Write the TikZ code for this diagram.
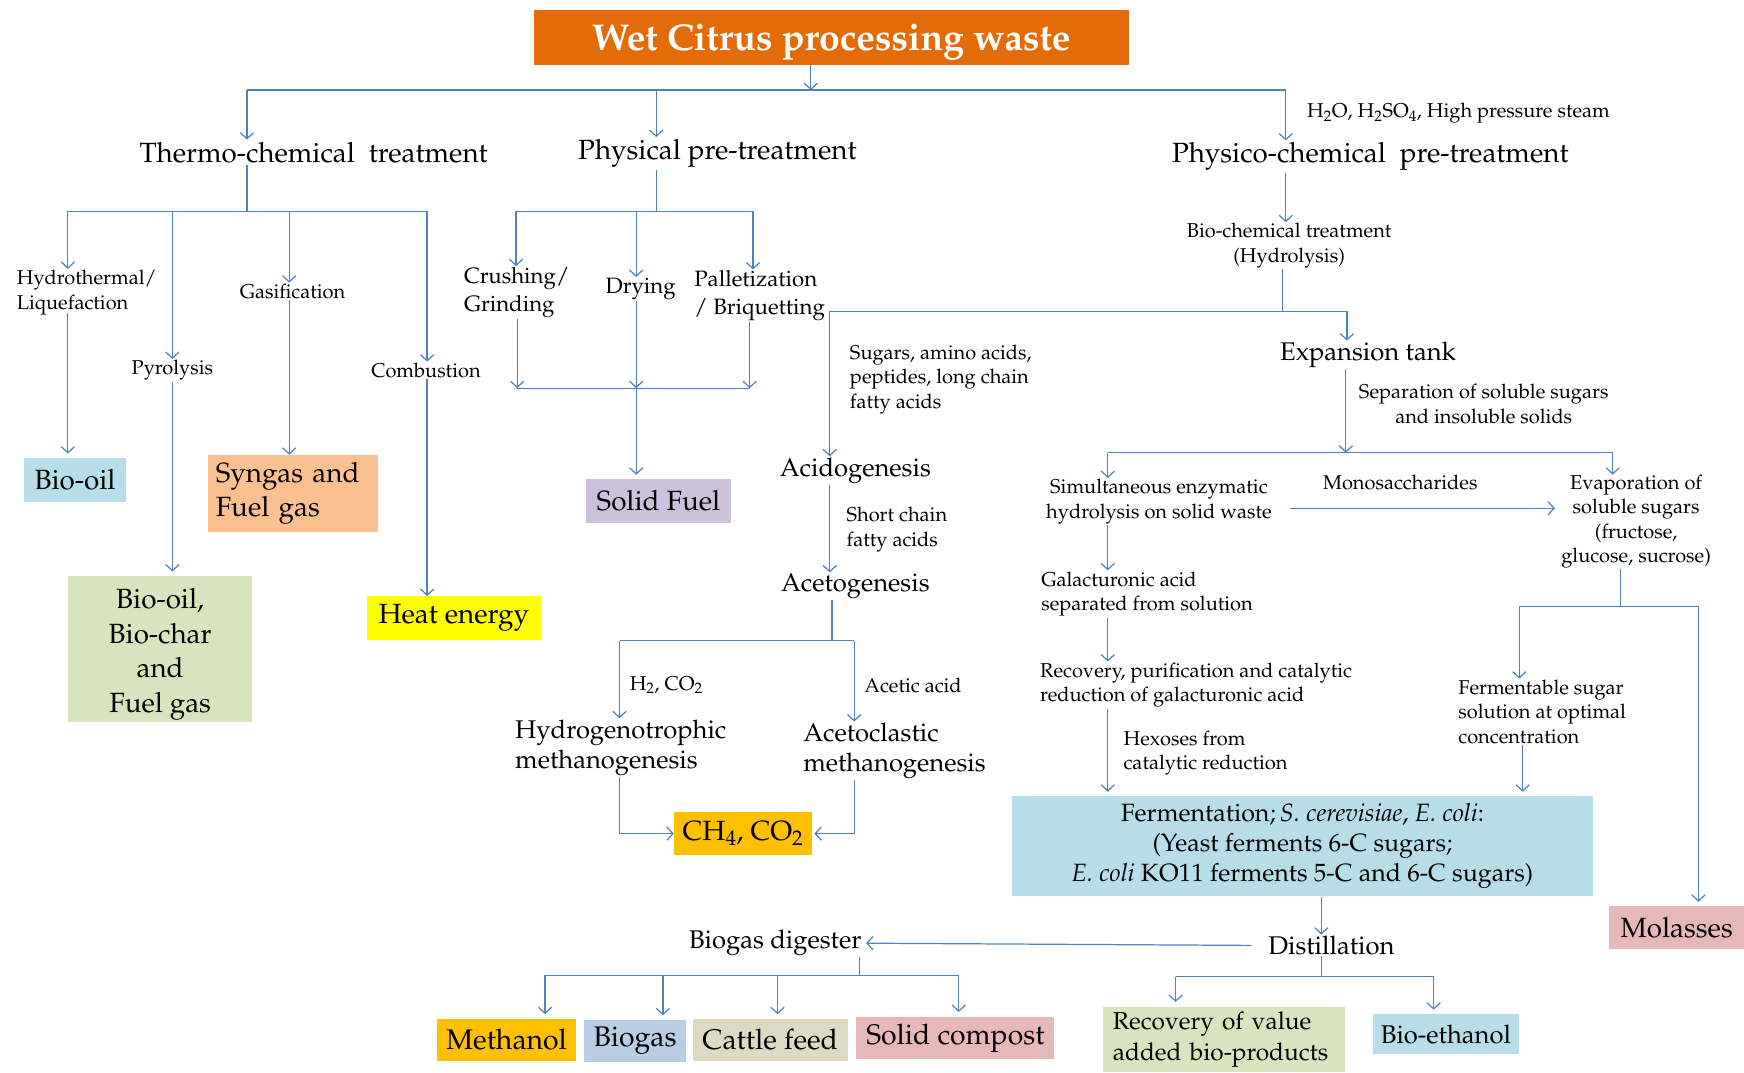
\documentclass[tikz,border=0pt]{standalone}
\usepackage[T1]{fontenc}
\usepackage{mathpazo}
\usetikzlibrary{arrows.meta}
\definecolor{lnc}{RGB}{79,129,189}
\definecolor{cOrange}{RGB}{227,108,9}
\definecolor{cLBlue}{RGB}{183,222,232}
\definecolor{cGreen}{RGB}{215,228,189}
\definecolor{cPeach}{RGB}{250,192,144}
\definecolor{cYellow}{RGB}{255,255,0}
\definecolor{cLav}{RGB}{204,193,218}
\definecolor{cGold}{RGB}{255,192,0}
\definecolor{cBGray}{RGB}{185,205,229}
\definecolor{cTan}{RGB}{221,217,195}
\definecolor{cPink}{RGB}{230,185,184}
\tikzset{
  ln/.style={draw=lnc, line width=1.1pt},
  arr/.style={ln, -{Straight Barb[length=5.5pt,width=12pt,line width=1.1pt]}},
  arrg/.style={arr, shorten >=4pt},
  sm/.style={inner sep=1pt, font=\fontsize{18}{22}\selectfont},
  md/.style={inner sep=1pt, font=\fontsize{20}{25}\selectfont},
  mid/.style={inner sep=1pt, font=\fontsize{23}{27}\selectfont},
  hd/.style={inner sep=2pt, font=\fontsize{25}{28}\selectfont},
  box/.style={fill=#1, inner sep=0pt, font=\fontsize{25}{31}\selectfont},
  bbox/.style={fill=#1, inner sep=0pt, font=\fontsize{25.5}{31}\selectfont},
}
\begin{document}
\begin{tikzpicture}[x=1pt,y=-1pt]
\useasboundingbox (0,0) rectangle (1568,964);

% ---------- title and top level ----------
\node[fill=cOrange, minimum width=535pt, minimum height=49pt, inner sep=0pt, text depth=0pt,
      text=white, font=\bfseries\fontsize{33.5}{36}\selectfont] (title) at (747.5,33.5) {Wet Citrus processing waste};
\node[hd] (tc) at (282,137) {Thermo-chemical\ \ treatment};
\node[hd] (pp) at (645,138) {Physical pre-treatment};
\node[hd] (pc) at (1232,141) {Physico-chemical\ \ pre-treatment};
\node[sm, anchor=west] (steam) at (1174,102) {H\textsubscript{2}O, H\textsubscript{2}SO\textsubscript{4}, High pressure steam};

\coordinate (j0) at (729,81);
\coordinate (jL) at (222,81);
\coordinate (jM) at (590,81);
\coordinate (jR) at (1156,81);
\draw[arr] (title.south -| j0) -- (j0);
\draw[ln] (jL) -- (jR);
\draw[arr] (jL) -- (jL |- tc.north);
\draw[arr] (jM) -- (jM |- pp.north);
\draw[arr] (jR) -- (jR |- pc.north);

% ---------- thermo-chemical ----------
\node[sm, anchor=west, align=left] (hyd) at (14,263) {Hydrothermal/\\Liquefaction};
\node[sm] (pyr) at (155,333) {Pyrolysis};
\node[sm] (gas) at (263,262) {Gasification};
\node[sm] (comb) at (383,333) {Combustion};

\node[box=cLBlue, minimum width=91pt, minimum height=39pt] (biooil) at (67.5,431.5) {Bio-oil};
\node[box=cGreen, minimum width=166pt, minimum height=131pt, align=center] (bbf) at (144,583.5) {\rule{0pt}{28pt}Bio-oil,\\Bio-char\\and\\Fuel gas};
\node[box=cPeach, minimum width=153pt, minimum height=69pt, align=left, text width=139pt] (syn) at (263.5,443.5) {Syngas and\\Fuel gas};
\node[box=cYellow, minimum width=156pt, minimum height=39pt] (heat) at (408,555.5) {Heat energy};

\coordinate (t0) at (222,190);
\coordinate (t1) at (61,190);
\coordinate (t2) at (155,190);
\coordinate (t3) at (260,190);
\coordinate (t4) at (384,190);
\draw[ln] (tc.south -| t0) -- (t0);
\draw[ln] (t1) -- (t4);
\draw[arr] (t1) -- (t1 |- hyd.north);
\draw[arr] (t2) -- (t2 |- pyr.north);
\draw[arr] (t3) -- (t3 |- gas.north);
\draw[arr] (t4) -- (t4 |- comb.north);
\draw[arrg] ([yshift=3pt]hyd.south -| t1) -- (t1 |- biooil.north);
\draw[arrg] (pyr.south -| t2) -- (t2 |- bbf.north);
\draw[arr] (gas.south -| t3) -- (t3 |- syn.north);
\draw[arr] (comb.south -| t4) -- (t4 |- heat.north);

% ---------- physical ----------
\node[md, anchor=west, align=left] (crush) at (416,263) {Crushing/\\Grinding};
\node[md] (dry) at (576,260) {Drying};
\node[md, anchor=west, align=left] (pal) at (623,266) {Palletization\\/ Briquetting};
\node[box=cLav, minimum width=130pt, minimum height=39pt] (solid) at (592,450.5) {Solid Fuel};

\coordinate (p0) at (590,190);
\coordinate (p1) at (464,190);
\coordinate (p2) at (572,190);
\coordinate (p3) at (677,190);
\draw[ln] (pp.south -| p0) -- (p0);
\draw[ln] (p1) -- (p3);
\draw[arr] (p1) -- (p1 |- crush.north);
\draw[arr] (p2) -- (p2 |- dry.north);
\draw[arr] (p3) -- (p3 |- pal.north);
\coordinate (q1) at (465,349);
\coordinate (q2) at (572,349);
\coordinate (q3) at (674,349);
\draw[arr] (crush.south -| q1) -- (q1);
\draw[arr] (dry.south -| q2) -- (q2);
\draw[arr] (pal.south -| q3) -- (q3);
\draw[ln] (q1) -- (q3);
\draw[arrg] (q2) -- (q2 |- solid.north);

% ---------- physico-chemical ----------
\node[sm, align=center] (bio) at (1159,221) {Bio-chemical treatment\\(Hydrolysis)};
\node[mid] (exp) at (1230,319) {Expansion tank};
\node[mid] (acid) at (769,423) {Acidogenesis};
\node[sm, anchor=west, align=left] (sug) at (763,341) {Sugars, amino acids,\\peptides, long chain\\fatty acids};
\node[sm, align=center] (sep) at (1334,363) {Separation of soluble sugars\\and insoluble solids};

\draw[arr] (pc.south -| jR) -- (jR |- bio.north);
\coordinate (b0) at (1153,280);
\coordinate (bL) at (746,280);
\coordinate (bR) at (1211,280);
\draw[ln] (bio.south -| b0) -- (b0);
\draw[ln] (bL) -- (bR);
\draw[arr] (bR) -- (bR |- exp.north);
\draw[arr] (bL) -- (bL |- acid.north);

\node[sm, align=center] (sim) at (1042,451) {Simultaneous enzymatic\\hydrolysis on solid waste};
\node[sm] (mono) at (1259,434) {Monosaccharides};
\node[sm, align=center, inner sep=0pt] (evap) at (1471,469) {Evaporation of\\soluble sugars\\(fructose,\\glucose, sucrose)};
\node[sm, anchor=west, align=left] (gal) at (935,534) {Galacturonic acid\\separated from solution};
\node[sm, anchor=west, align=left] (rec) at (934,616) {Recovery, purification and catalytic\\reduction of galacturonic acid};
\node[sm, anchor=west, align=left] (hex) at (1009,677) {Hexoses from\\catalytic reduction};
\node[sm, anchor=west, align=left] (fsug) at (1310,640) {Fermentable sugar\\solution at optimal\\concentration};

\coordinate (e0) at (1210,407);
\coordinate (eL) at (996,407);
\coordinate (eR) at (1450,407);
\draw[arr] (exp.south -| e0) -- (e0);
\draw[ln] (eL) -- (eR);
\draw[arr] (eL) -- (eL |- sim.north);
\draw[arr] (eR) -- (eR |- evap.north);
\coordinate (m1) at (1160,457);
\coordinate (m2) at (1398,457);
\draw[arr] (m1) -- (m2);
\draw[arr] (sim.south -| eL) -- (eL |- gal.north);
\draw[arr] (gal.south -| eL) -- (eL |- rec.north);

\node[fill=cLBlue, minimum width=522pt, minimum height=90pt, inner sep=0pt, align=center,
      font=\fontsize{22.5}{27}\selectfont] (ferm) at (1171,761)
  {Fermentation;\,\textit{S.\ cerevisiae}, \textit{E.\ coli}:\\(Yeast ferments 6-C sugars;\\\textit{E.\ coli} KO11 ferments 5-C and 6-C sugars)};
\node[box=cPink, minimum width=121pt, minimum height=38pt] (mol) at (1507.5,834) {Molasses};

\draw[arrg] (rec.south -| eL) -- (eL |- ferm.north);
\coordinate (v0) at (1457,545);
\coordinate (v1) at (1366,545);
\coordinate (v2) at (1527,545);
\draw[ln] (evap.south -| v0) -- (v0);
\draw[ln] (v1) -- (v2);
\draw[arr] (v1) -- (v1 |- fsug.north);
\draw[arrg] (v2) -- (v2 |- mol.north);
\coordinate (f0) at (1369,700);
\draw[arrg] (fsug.south -| f0) -- (f0 |- ferm.north);

% ---------- distillation ----------
\node[mid] (dist) at (1197,850) {Distillation};
\node[mid] (bdig) at (697,848) {Biogas digester};
\coordinate (k0) at (1188,820);
\draw[arr] (ferm.south -| k0) -- (k0 |- dist.north);
\draw[arr] ([xshift=-14pt]dist.west) -- ([xshift=3pt]bdig.east);

\node[box=cGreen, minimum width=217pt, minimum height=59pt, align=left, text width=200pt,
      font=\fontsize{22}{28}\selectfont] (recv) at (1100.5,934.5) {Recovery of value\\added bio-products};
\node[box=cLBlue, minimum width=132pt, minimum height=36pt, font=\fontsize{23}{26}\selectfont] (beth) at (1300,930) {Bio-ethanol};
\coordinate (d0) at (1188,878);
\coordinate (d1) at (1057,878);
\coordinate (d2) at (1289,878);
\draw[ln] (dist.south -| d0) -- (d0);
\draw[ln] (d1) -- (d2);
\draw[arrg] (d1) -- (d1 |- recv.north);
\draw[arrg] (d2) -- (d2 |- beth.north);

\node[bbox=cGold, minimum width=125pt, minimum height=38pt] (meth) at (455.5,935) {Methanol};
\node[bbox=cBGray, minimum width=92pt, minimum height=38pt] (biog) at (571,936) {Biogas};
\node[bbox=cTan, minimum width=139pt, minimum height=38pt] (cattle) at (692.5,935) {Cattle feed};
\node[bbox=cPink, minimum width=178pt, minimum height=38pt] (comp) at (859,933) {Solid compost};
\coordinate (g0) at (773,877);
\coordinate (g1) at (490,877);
\coordinate (g2) at (596,877);
\coordinate (g3) at (699,877);
\coordinate (g4) at (862,877);
\draw[ln] (bdig.south -| g0) -- (g0);
\draw[ln] (g1) -- (g4);
\draw[arrg] (g1) -- (g1 |- meth.north);
\draw[arrg] (g2) -- (g2 |- biog.north);
\draw[arrg] (g3) -- (g3 |- cattle.north);
\draw[arrg] (g4) -- (g4 |- comp.north);

% ---------- anaerobic digestion branch ----------
\node[mid] (aceto) at (769,527) {Acetogenesis};
\node[sm, anchor=west, align=left] (scfa) at (760,476) {Short chain\\fatty acids};
\node[sm, anchor=west] (h2) at (565,616) {H\textsubscript{2}, CO\textsubscript{2}};
\node[sm, anchor=west] (acet) at (776,616) {Acetic acid};
\node[mid, anchor=west, align=left] (hyd2) at (462,672) {Hydrogenotrophic\\methanogenesis};
\node[mid, anchor=west, align=left] (acl) at (721,675) {Acetoclastic\\methanogenesis};
\node[box=cGold, minimum width=124pt, minimum height=39pt] (ch4) at (668,749.5) {CH\textsubscript{4}, CO\textsubscript{2}};

\draw[arr] (acid.south -| bL) -- (bL |- aceto.north);
\coordinate (a0) at (748,576);
\coordinate (a1) at (557,576);
\coordinate (a2) at (768,576);
\draw[ln] (aceto.south -| a0) -- (a0);
\draw[ln] (a1) -- (a2);
\draw[arr] (a1) -- (a1 |- hyd2.north);
\draw[arr] (a2) -- (a2 |- acl.north);
\draw[arr] (hyd2.south -| a1) |- (ch4.west);
\draw[arr] (acl.south -| a2) |- ([xshift=2pt]ch4.east);
\end{tikzpicture}
\end{document}
